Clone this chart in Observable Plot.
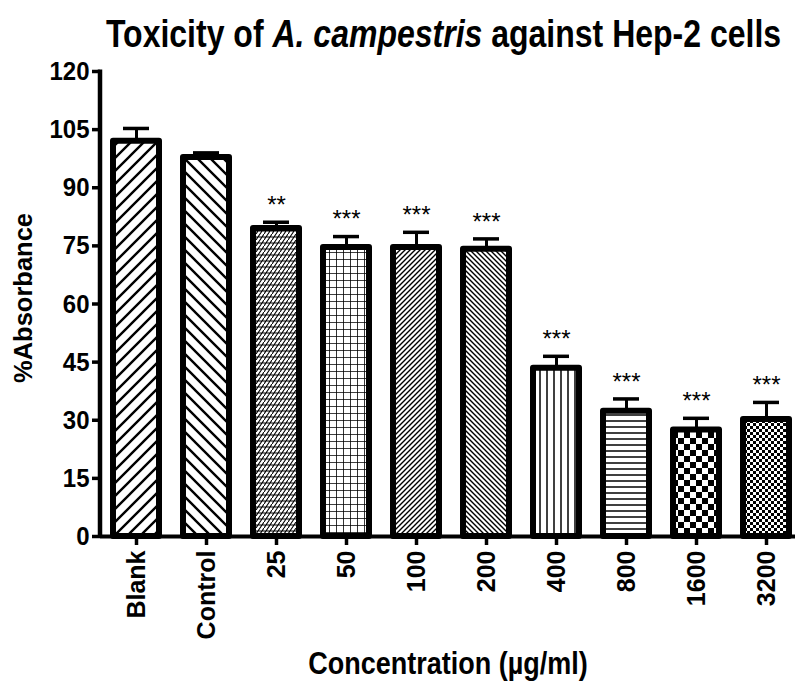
<!DOCTYPE html>
<html>
<head>
<meta charset="utf-8">
<script src="https://cdn.jsdelivr.net/npm/d3@7"></script>
<script src="https://cdn.jsdelivr.net/npm/@observablehq/plot@0.6"></script>
<style>
  html, body { margin: 0; padding: 0; background: #fff; }
  #wrap { position: relative; width: 795px; height: 686px; }
  #title {
    position: absolute; left: 0; top: 0; z-index: 2;
    width: 795px; box-sizing: border-box;
    padding-left: 92px; padding-top: 12px;
    text-align: center; font-family: "Liberation Sans", Arial, sans-serif;
    font-weight: bold; font-size: 32px; line-height: 32px; color: #000;
    transform: scaleY(1.2); transform-origin: 0 0; white-space: nowrap;
  }
  #chart svg { display: block; }
</style>
</head>
<body>
<div id="wrap">
<div id="title">Toxicity of <i>A. campestris</i> against Hep-2 cells</div>
<div id="chart"></div>
</div>
<script>
const categories = ["Blank", "Control", "25", "50", "100", "200", "400", "800", "1600", "3200"];
const means = [102.0, 97.8, 79.5, 74.6, 74.6, 74.1, 43.4, 32.3, 27.5, 30.2];
const errors = [3.3, 1.2, 1.6, 2.8, 3.9, 2.7, 3.1, 3.2, 3.0, 4.4];
const stars = ["", "", "**", "***", "***", "***", "***", "***", "***", "***"];
const yTicks = [0, 15, 30, 45, 60, 75, 90, 105, 120];

const data = categories.map((c, i) => ({category: c, mean: means[i], err: errors[i], star: stars[i], idx: i}));

const font = "Liberation Sans, Arial, sans-serif";

const plot = Plot.plot({
  width: 795,
  height: 686,
  marginLeft: 100,
  marginRight: 0,
  marginTop: 71,
  marginBottom: 150,
  style: {fontFamily: font, background: "#fff", color: "#000"},
  x: {domain: categories, range: [98.9, 803.1], paddingInner: 0.34, paddingOuter: 0.2, label: null},
  y: {domain: [0, 120], label: null},
  color: {type: "identity"},
  marks: [
    Plot.ruleX(data, {x: "category", y1: "mean", y2: d => d.mean + d.err, stroke: "black", strokeWidth: 3}),
    Plot.tickY(data, {x: "category", y: d => d.mean + d.err, insetLeft: 10, insetRight: 10, stroke: "black", strokeWidth: 3.5}),
    Plot.barY(data, {x: "category", y: "mean", fill: d => `url(#pat${d.idx})`, stroke: "black", strokeWidth: 6, strokeLinejoin: "round"}),
    Plot.text(data, {x: "category", y: d => d.mean + d.err, text: "star", dy: -17, fontSize: 24, fill: "black"}),
    Plot.ruleY([0], {stroke: "black", strokeWidth: 4}),
    Plot.axisY({ticks: yTicks, tickSize: 8, tickPadding: 3, fontSize: 24, fontWeight: "bold", strokeWidth: 3.5, label: null, tickFormat: d => String(d)}),
    Plot.axisX({tickRotate: -90, tickSize: 9, tickPadding: 5, fontSize: 25, fontWeight: "bold", strokeWidth: 3.5, label: null}),
    Plot.text(["%Absorbance"], {frameAnchor: "left", textAnchor: "middle", rotate: -90, dx: -77, dy: -6, fontSize: 25.5, fontWeight: "bold", fill: "black"}),
    Plot.text(["Concentration (\u00b5g/ml)"], {frameAnchor: "bottom", textAnchor: "middle", dy: 136, fontSize: 27, fontWeight: "bold", fill: "black"})
  ]
});

// Patterns
const svg = d3.select(plot);
const defs = svg.insert("defs", ":first-child");
function pat(id, w, h) {
  const p = defs.append("pattern").attr("id", id).attr("patternUnits", "userSpaceOnUse").attr("width", w).attr("height", h);
  p.append("rect").attr("width", w).attr("height", h).attr("fill", "#fff");
  return p;
}
function lines(p, d, sw) {
  p.append("path").attr("d", d).attr("stroke", "#000").attr("stroke-width", sw).attr("fill", "none").attr("stroke-linecap", "square");
}
// 0 Blank: wide "/" diagonals
let p = pat("pat0", 13, 13); lines(p, "M-1,14 L14,-1 M-4,4 L4,-4 M9,17 L17,9", 2.4);
// 1 Control: wide "\" diagonals
p = pat("pat1", 13, 13); lines(p, "M-1,-1 L14,14 M9,-4 L17,4 M-4,9 L4,17", 2.4);
// 2 25: fine staggered brick-like hatch
p = pat("pat2", 8, 6);
lines(p, "M0,6 L4,0 M4,6 L8,0 M0,3 L8,3", 1.1);
// 3 50: grid
p = pat("pat3", 7, 7); lines(p, "M0,0 L7,0 M0,0 L0,7", 1.6);
// 4 100: fine "/"
p = pat("pat4", 5, 5); lines(p, "M-1,6 L6,-1 M-2,2 L2,-2 M3,7 L7,3", 1.4);
// 5 200: fine "\"
p = pat("pat5", 5, 5); lines(p, "M-1,-1 L6,6 M3,-2 L7,2 M-2,3 L2,7", 1.4);
// 6 400: vertical lines
p = pat("pat6", 7, 7); lines(p, "M1,0 L1,7", 1.5);
// 7 800: horizontal lines
p = pat("pat7", 6, 6); lines(p, "M0,1 L6,1", 1.5);
// 8 1600: large checkerboard
p = pat("pat8", 12, 12);
p.append("rect").attr("x", 0).attr("y", 0).attr("width", 6).attr("height", 6).attr("fill", "#000");
p.append("rect").attr("x", 6).attr("y", 6).attr("width", 6).attr("height", 6).attr("fill", "#000");
// 9 3200: small checkerboard
p = pat("pat9", 6, 6);
p.append("rect").attr("x", 0).attr("y", 0).attr("width", 3).attr("height", 3).attr("fill", "#000");
p.append("rect").attr("x", 3).attr("y", 3).attr("width", 3).attr("height", 3).attr("fill", "#000");

// Y axis line using the plot's own y scale
const yS = plot.scale("y");
svg.append("line")
  .attr("x1", 100).attr("x2", 100)
  .attr("y1", yS.apply(0) + 2).attr("y2", yS.apply(120) - 1.5)
  .attr("stroke", "#000").attr("stroke-width", 4.5);

document.getElementById("chart").appendChild(plot);

// Slight vertical stretch of horizontal texts (as in the reference rendering),
// scaled about each text's own centre in its parent's coordinate system
function stretchY(nodes, s) {
  nodes.forEach(el => {
    const r = el.getBoundingClientRect();
    const parent = el.parentNode;
    const inv = parent.getScreenCTM().inverse();
    const pt = new DOMPoint((r.left + r.right) / 2, (r.top + r.bottom) / 2).matrixTransform(inv);
    const cy = pt.y;
    const g = document.createElementNS("http://www.w3.org/2000/svg", "g");
    g.setAttribute("transform", `translate(0,${cy}) scale(1,${s}) translate(0,${-cy})`);
    parent.insertBefore(g, el);
    g.appendChild(el);
  });
}
stretchY(Array.from(plot.querySelectorAll('g[aria-label="y-axis tick label"] text')), 1.1);
const texts = Array.from(plot.querySelectorAll("text")).filter(t => t.textContent.startsWith("Concentration"));
stretchY(texts, 1.15);
</script>
</body>
</html>
